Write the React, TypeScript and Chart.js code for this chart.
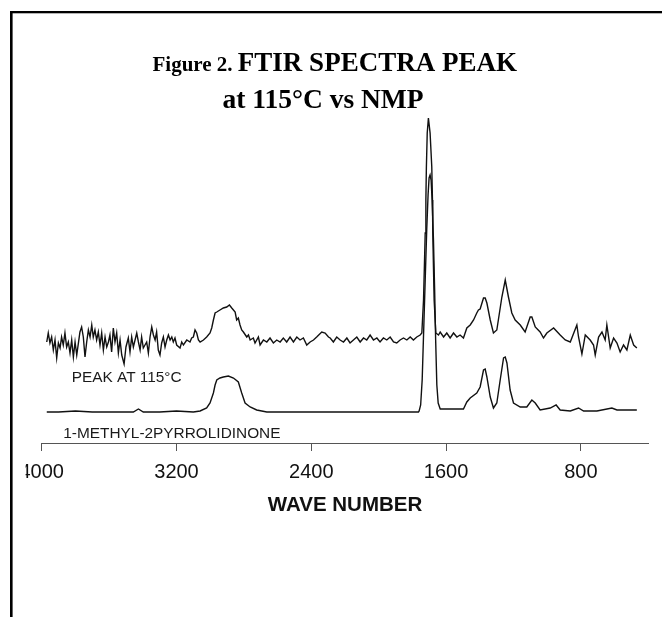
import React, { useEffect, useRef } from "react";
import { Chart, registerables } from "chart.js";

Chart.register(...registerables);

// Sample spectrum (PEAK AT 115°C) – wavenumber (cm-1) and intensity (a.u.)
const upperWave = [
  3970, 3961, 3951, 3941, 3931, 3921, 3911, 3901, 3891, 3882, 3872, 3862, 3852, 3842, 3832, 3822,
  3812, 3802, 3792, 3773, 3763, 3753, 3743, 3733, 3723, 3713, 3703, 3694, 3684, 3674, 3664, 3654,
  3644, 3634, 3624, 3614, 3604, 3595, 3585, 3575, 3565, 3555, 3545, 3535, 3525, 3511, 3500, 3486,
  3476, 3466, 3456, 3436, 3426, 3416, 3407, 3397, 3377, 3367, 3357, 3347, 3337, 3327, 3318, 3308,
  3298, 3288, 3278, 3268, 3258, 3248, 3238, 3228, 3219, 3209, 3199, 3179, 3169, 3159, 3139, 3120,
  3110, 3100, 3090, 3080, 3070, 3060, 3040, 3021, 3001, 2991, 2981, 2971, 2961, 2942, 2922, 2902,
  2886, 2872, 2852, 2843, 2833, 2823, 2813, 2803, 2783, 2773, 2763, 2744, 2734, 2714, 2704, 2684,
  2664, 2645, 2625, 2605, 2585, 2566, 2546, 2526, 2506, 2486, 2467, 2447, 2427, 2407, 2387, 2368,
  2338, 2318, 2298, 2288, 2269, 2249, 2229, 2209, 2189, 2170, 2150, 2130, 2110, 2090, 2071, 2051,
  2031, 2011, 1992, 1972, 1952, 1932, 1912, 1893, 1873, 1853, 1833, 1813, 1794, 1774, 1754, 1744,
  1734, 1729, 1724, 1720, 1717, 1712, 1705, 1695, 1685, 1681, 1679, 1675, 1671, 1661, 1645, 1635,
  1615, 1596, 1576, 1556, 1536, 1517, 1497, 1477, 1457, 1437, 1418, 1408, 1398, 1378, 1368, 1358,
  1338, 1319, 1299, 1269, 1249, 1230, 1210, 1190, 1160, 1131, 1101, 1091, 1071, 1042, 1022, 1002,
  962, 923, 893, 863, 824, 814, 794, 774, 745, 725, 715, 695, 675, 656, 646, 626,
  606, 586, 567, 547, 527, 507, 487, 468,
];
const upperAbs = [
  101, 110, 100, 106, 93, 103, 85, 100, 95, 106, 98, 110, 96, 101, 90, 103,
  86, 101, 88, 111, 116, 106, 86, 101, 113, 106, 118, 106, 113, 103, 111, 98,
  110, 93, 106, 96, 101, 108, 91, 115, 101, 110, 90, 103, 88, 79, 96, 105,
  91, 106, 96, 110, 101, 93, 106, 95, 101, 90, 106, 116, 108, 103, 111, 93,
  88, 100, 106, 96, 103, 108, 103, 106, 101, 105, 98, 95, 101, 98, 103, 101,
  105, 106, 113, 110, 103, 101, 103, 106, 110, 115, 123, 130, 131, 133, 135, 136,
  138, 135, 131, 123, 125, 118, 113, 111, 106, 108, 103, 105, 100, 106, 98, 103,
  101, 105, 100, 103, 101, 105, 101, 106, 101, 106, 103, 105, 98, 101, 103, 106,
  111, 110, 106, 105, 101, 106, 103, 101, 105, 100, 103, 106, 101, 105, 103, 108,
  103, 105, 101, 105, 103, 106, 101, 100, 103, 105, 103, 106, 103, 106, 108, 110,
  143, 176, 210, 243, 276, 310, 325, 310, 276, 243, 210, 176, 143, 110, 108, 111,
  106, 110, 105, 110, 106, 108, 105, 115, 118, 123, 130, 133, 134, 145, 145, 140,
  123, 110, 113, 146, 163, 146, 130, 123, 118, 111, 126, 126, 116, 111, 105, 110,
  115, 108, 103, 101, 118, 106, 89, 108, 103, 98, 88, 106, 111, 103, 118, 95,
  105, 100, 91, 98, 93, 108, 98, 95,
];

// Reference spectrum (1-METHYL-2PYRROLIDINONE)
const lowerWave = [
  3970, 3900, 3800, 3700, 3600, 3500, 3456, 3426, 3397, 3300, 3200, 3100, 3060, 3021, 3001, 2981,
  2971, 2961, 2942, 2922, 2892, 2862, 2833, 2813, 2793, 2763, 2724, 2664, 2500, 2288, 2000, 1764,
  1760, 1751, 1742, 1733, 1724, 1715, 1707, 1701, 1695, 1689, 1683, 1675, 1668, 1662, 1655, 1647,
  1635, 1497, 1477, 1457, 1418, 1398, 1378, 1368, 1358, 1338, 1319, 1299, 1279, 1259, 1249, 1239,
  1220, 1200, 1160, 1121, 1091, 1071, 1042, 982, 947, 923, 863, 814, 784, 705, 616, 586,
  468,
];
const lowerAbs = [
  31, 31, 32, 31, 31, 31, 31, 34, 31, 31, 32, 31, 32, 35, 40, 50,
  58, 63, 65, 66, 67, 65, 61, 50, 40, 36, 33, 31, 31, 31, 31, 31,
  32, 38, 63, 113, 163, 213, 248, 265, 268, 263, 243, 203, 153, 103, 58, 40,
  34, 34, 41, 45, 50, 56, 73, 74, 66, 46, 35, 40, 63, 85, 86, 80,
  53, 40, 36, 36, 43, 40, 33, 35, 38, 33, 32, 35, 32, 32, 35, 33,
  33,
];

const tickValues = [4000, 3200, 2400, 1600, 800];
const titleLine1a = "Figure 2. ";
const titleLine1b = "FTIR SPECTRA PEAK";
const titleLine2 = "at 115°C vs NMP";
const xAxisTitle = "WAVE NUMBER";
const labelTexts = ["PEAK AT 115°C", "1-METHYL-2PYRROLIDINONE"];
const labelWave = [3822, 3872];
const labelAbs = [61, 5];

const SANS = '"Liberation Sans", Arial, sans-serif';
const SERIF = '"Liberation Serif", "Times New Roman", serif';

const decor = {
  id: "decor",
  afterDraw(chart: any) {
    const ctx = chart.ctx as CanvasRenderingContext2D;
    const xs = chart.scales.x;
    const ys = chart.scales.y;
    ctx.save();
    // left part of first tick label is cut off in the original
    ctx.fillStyle = "#ffffff";
    ctx.fillRect(12.6, 455, 13, 36);

    // frame (top and left)
    ctx.fillStyle = "#000000";
    ctx.fillRect(10, 11, 652, 2.3);
    ctx.fillRect(10, 11, 2.6, 606);

    // title
    ctx.textBaseline = "alphabetic";
    ctx.textAlign = "left";
    const fA = `bold 21px ${SERIF}`;
    const fB = `bold 27px ${SERIF}`;
    ctx.font = fA;
    const wA = ctx.measureText(titleLine1a).width;
    ctx.font = fB;
    const wB = ctx.measureText(titleLine1b).width;
    const x0 = 334.7 - (wA + wB) / 2;
    ctx.font = fA;
    ctx.fillText(titleLine1a, x0, 71);
    ctx.font = fB;
    ctx.fillText(titleLine1b, x0 + wA, 71);
    ctx.font = `bold 27.5px ${SERIF}`;
    ctx.textAlign = "center";
    ctx.fillText(titleLine2, 323, 108);

    // curve labels
    ctx.textAlign = "left";
    ctx.font = `15.4px ${SANS}`;
    ctx.fillStyle = "#1a1a1a";
    labelTexts.forEach((t, i) => {
      ctx.fillText(t, xs.getPixelForValue(labelWave[i]), ys.getPixelForValue(labelAbs[i]));
    });
    ctx.restore();
  },
};

export default function App() {
  const ref = useRef<HTMLCanvasElement | null>(null);
  useEffect(() => {
    if (!ref.current) return;
    const chart = new Chart(ref.current, {
      type: "line",
      data: {
        datasets: [
          {
            label: "PEAK AT 115°C",
            data: upperWave.map((x, i) => ({ x, y: upperAbs[i] })),
            borderColor: "#111111",
            borderWidth: 1.4,
            pointRadius: 0,
            tension: 0,
            fill: false,
          },
          {
            label: "1-METHYL-2PYRROLIDINONE",
            data: lowerWave.map((x, i) => ({ x, y: lowerAbs[i] })),
            borderColor: "#111111",
            borderWidth: 1.4,
            pointRadius: 0,
            tension: 0,
            fill: false,
          },
        ],
      },
      options: {
        animation: false,
        responsive: false,
        maintainAspectRatio: false,
        events: [],
        layout: { padding: { left: 41.7, right: 13.7, top: 110, bottom: 74 } },
        plugins: {
          legend: { display: false },
          tooltip: { enabled: false },
          title: { display: false },
        },
        scales: {
          x: {
            type: "linear",
            min: 400,
            max: 4000,
            reverse: true,
            afterBuildTicks: (axis: any) => {
              axis.ticks = tickValues.map((v) => ({ value: v }));
            },
            afterFit: (scale: any) => {
              scale.height = 100;
            },
            ticks: {
              autoSkip: false,
              maxRotation: 0,
              padding: 9,
              color: "#111111",
              font: { family: SANS, size: 20 },
              callback: (v: any) => String(v),
            },
            grid: {
              drawOnChartArea: false,
              drawTicks: true,
              tickLength: 8,
              color: "#555555",
              lineWidth: 1,
            },
            border: { display: true, color: "#555555", width: 1 },
            title: {
              display: true,
              text: xAxisTitle,
              color: "#111111",
              font: { family: SANS, size: 20.5, weight: "bold" },
              padding: { top: 0, bottom: 25.8 },
            },
          },
          y: {
            type: "linear",
            display: false,
            min: 0,
            max: 333,
          },
        },
      },
      plugins: [decor],
    });
    return () => chart.destroy();
  }, []);
  return (
    <div style={{ position: "absolute", left: 0, top: 0, width: 662, height: 617, background: "#fff" }}>
      <canvas ref={ref} width={662} height={617} style={{ width: 662, height: 617, display: "block" }} />
    </div>
  );
}
